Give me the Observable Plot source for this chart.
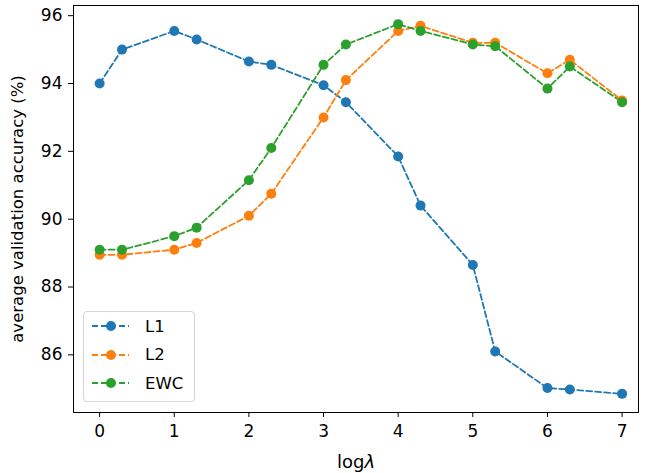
<!DOCTYPE html>
<html>
<head>
<meta charset="utf-8">
<script src="https://cdn.jsdelivr.net/npm/d3@7"></script>
<script src="https://cdn.jsdelivr.net/npm/@observablehq/plot@0.6"></script>
<style>
  body { margin: 0; background: white; }
  #wrap { position: relative; width: 655px; height: 473px; font-family: "DejaVu Sans", sans-serif; }
  #legend { position: absolute; left: 83px; top: 311px; width: 110px; height: 89px;
            border: 1px solid #d5d5d5; border-radius: 4px; background: rgba(255,255,255,0.8); }
  #legend .row { position: absolute; left: 0; height: 20px; display: flex; align-items: center; }
  #legend .row span { position: absolute; left: 61px; font-size: 16.5px; color: #000; white-space: nowrap; }
</style>
</head>
<body>
<div id="wrap"></div>
<script>
const xs   = [0, 0.3, 1, 1.3, 2, 2.3, 3, 3.3, 4, 4.3, 5, 5.3, 6, 6.3, 7];
const l1   = [94.0, 95.0, 95.55, 95.3, 94.65, 94.55, 93.95, 93.45, 91.85, 90.4, 88.65, 86.1, 85.02, 84.98, 84.85];
const l2   = [88.95, 88.95, 89.1, 89.3, 90.1, 90.75, 93.0, 94.1, 95.55, 95.7, 95.2, 95.2, 94.3, 94.7, 93.5];
const ewc  = [89.1, 89.1, 89.5, 89.75, 91.15, 92.1, 94.55, 95.15, 95.75, 95.55, 95.15, 95.1, 93.85, 94.5, 93.45];
const seriesNames  = ["L1", "L2", "EWC"];
const seriesColors = ["#1f77b4", "#ff7f0e", "#2ca02c"];
const xTicks = [0, 1, 2, 3, 4, 5, 6, 7];
const yTicks = [86, 88, 90, 92, 94, 96];

const seriesValues = [l1, l2, ewc];
const data = [];
seriesNames.forEach((name, i) => {
  xs.forEach((x, j) => data.push({series: name, x, y: seriesValues[i][j]}));
});

const color = {domain: seriesNames, range: seriesColors};

const chart = Plot.plot({
  width: 655,
  height: 473,
  marginLeft: 73,
  marginRight: 17,
  marginTop: 5,
  marginBottom: 61,
  style: {fontFamily: "DejaVu Sans, sans-serif", fontSize: "17px", color: "#000", background: "white"},
  x: {domain: [-0.35, 7.22]},
  y: {domain: [84.3, 96.3]},
  color,
  marks: [
    Plot.line(data, {x: "x", y: "y", z: "series", stroke: "series", strokeWidth: 1.8, strokeDasharray: "6,3"}),
    Plot.dot(data, {x: "x", y: "y", fill: "series", r: 5}),
    Plot.axisX({ticks: xTicks, tickSize: 5, tickPadding: 7, tickFormat: d => String(d),
                label: "logλ", labelAnchor: "center", labelArrow: "none", labelOffset: 55, fontSize: 17}),
    Plot.axisY({ticks: yTicks, tickSize: 5, tickPadding: 6, tickFormat: d => String(d),
                label: "average validation accuracy (%)", labelAnchor: "center", labelArrow: "none", labelOffset: 62, fontSize: 17}),
    Plot.frame({stroke: "#000", strokeWidth: 1})
  ]
});
document.getElementById("wrap").appendChild(chart);

// label sizes and italic lambda
d3.select(chart).selectAll("text").each(function() {
  if (this.textContent === "logλ") {
    const t = d3.select(this);
    t.attr("font-size", 18);
    t.text("");
    t.append("tspan").text("log");
    t.append("tspan").attr("font-style", "italic").text("λ");
  } else if (this.textContent === "average validation accuracy (%)") {
    d3.select(this).attr("font-size", 16.5);
  }
});

// legend
const legend = document.createElement("div");
legend.id = "legend";
seriesNames.forEach((name, i) => {
  const row = document.createElement("div");
  row.className = "row";
  row.style.top = (4 + i * 28.5) + "px";
  row.style.width = "110px";
  row.innerHTML = `<svg width="50" height="20" style="position:absolute;left:0;top:0">
      <line x1="8" y1="10" x2="45" y2="10" stroke="${seriesColors[i]}" stroke-width="1.8" stroke-dasharray="6,3"/>
      <circle cx="27" cy="10" r="5" fill="${seriesColors[i]}"/></svg><span>${name}</span>`;
  legend.appendChild(row);
});
document.getElementById("wrap").appendChild(legend);
</script>
</body>
</html>
